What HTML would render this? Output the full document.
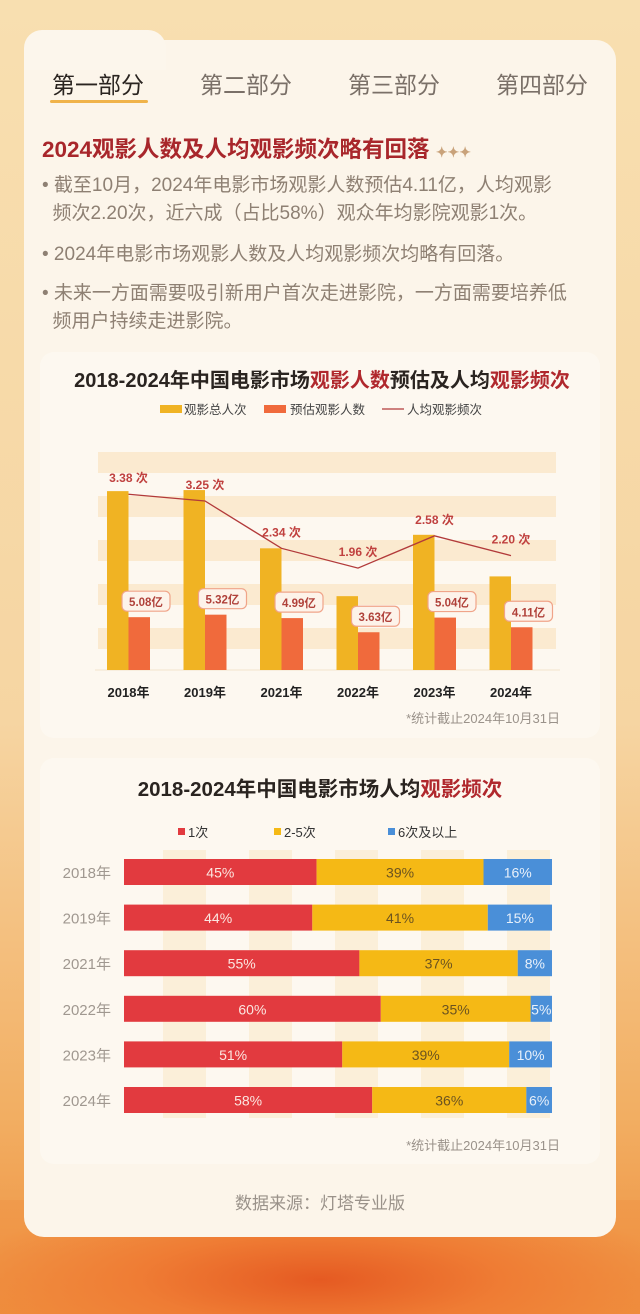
<!DOCTYPE html>
<html><head><meta charset="utf-8">
<style>
*{margin:0;padding:0;box-sizing:border-box}
body{width:640px;height:1314px;overflow:hidden;font-family:"Liberation Sans","Noto Sans CJK SC",sans-serif;
background:linear-gradient(180deg,#f8dfb0 0%,#f6d5a2 55%,#f2ae62 85%,#ee8f3e 100%);position:relative}
.abs{position:absolute}
#swirl{left:0;top:1200px;width:640px;height:114px;background:radial-gradient(ellipse at 50% 70%,#e55a22 0%,#ef7c34 40%,rgba(240,140,60,0.3) 80%)}
#card{left:24px;top:40px;width:592px;height:1197px;background:#fcf5ea;border-radius:20px}
#tabact{left:24px;top:30px;width:142px;height:40px;background:#fcf6ec;border-radius:18px 18px 0 0}
.tab{top:66px;font-size:23px;color:#7a7068}
.bul{left:42px;font-size:19px;color:#8e8073;line-height:28px;width:570px;white-space:nowrap}
.panel{background:#fdf8f0;border-radius:14px}
</style></head><body>
<div class="abs" id="swirl"></div>
<div class="abs" id="card"></div>
<div class="abs" id="tabact"></div>
<div class="abs tab" style="left:52px;color:#2a2420">第一部分</div>
<div class="abs" style="left:50px;top:100px;width:98px;height:3px;background:#f0b34a;border-radius:2px"></div>
<div class="abs tab" style="left:200px">第二部分</div>
<div class="abs tab" style="left:348px">第三部分</div>
<div class="abs tab" style="left:496px">第四部分</div>
<div class="abs" style="left:42px;top:132px;font-size:22.5px;font-weight:bold;color:#a8262b;white-space:nowrap">2024观影人数及人均观影频次略有回落 <span style="color:#c9a27a;font-size:14px">✦✦✦</span></div>
<div class="abs bul" style="top:172px">• 截至10月，2024年电影市场观影人数预估4.11亿，人均观影<br>&nbsp;&nbsp;频次2.20次，近六成（占比58%）观众年均影院观影1次。</div>
<div class="abs bul" style="top:241px">• 2024年电影市场观影人数及人均观影频次均略有回落。</div>
<div class="abs bul" style="top:280px">• 未来一方面需要吸引新用户首次走进影院，一方面需要培养低<br>&nbsp;&nbsp;频用户持续走进影院。</div>

<div class="abs panel" style="left:40px;top:352px;width:560px;height:386px"></div>
<div class="abs panel" style="left:40px;top:758px;width:560px;height:406px"></div>

<svg class="abs" style="left:0;top:0" width="640" height="1314" id="svg"></svg>

<div class="abs" style="left:0;width:640px;top:1189px;text-align:center;font-size:17px;color:#9a928a">数据来源：灯塔专业版</div>

<script>
const years1=["2018年","2019年","2021年","2022年","2023年","2024年"];
const totalAdmissions=[17.2,17.3,11.7,7.1,13.0,9.0];
const viewers=[5.08,5.32,4.99,3.63,5.04,4.11];
const viewerLabels=["5.08亿","5.32亿","4.99亿","3.63亿","5.04亿","4.11亿"];
const freq=[3.38,3.25,2.34,1.96,2.58,2.20];
const freqLabels=["3.38 次","3.25 次","2.34 次","1.96 次","2.58 次","2.20 次"];

const years2=["2018年","2019年","2021年","2022年","2023年","2024年"];
const once=[45,44,55,60,51,58];
const twoFive=[39,41,37,35,39,36];
const sixPlus=[16,15,8,5,10,6];

const NS="http://www.w3.org/2000/svg";
const svg=document.getElementById('svg');
function mk(tag,a,txt){const e=document.createElementNS(NS,tag);for(const k in a)e.setAttribute(k,a[k]);if(txt!==undefined)e.textContent=txt;svg.appendChild(e);return e;}
const F='"Liberation Sans","Noto Sans CJK SC",sans-serif';

// chart 1
let t=mk('text',{x:322,y:387,'text-anchor':'middle','font-size':20,'font-weight':'bold',fill:'#2a2420','font-family':F});
t.innerHTML='2018-2024年中国电影市场<tspan fill="#b0282d">观影人数</tspan>预估及人均<tspan fill="#b0282d">观影频次</tspan>';


let e;
e=mk('rect',{x:160,y:405,width:22,height:8,fill:'#f0b323'});


e=mk('text',{x:184,y:414,'font-size':12.5,fill:'#444','font-family':F},'观影总人次');


e=mk('rect',{x:264,y:405,width:22,height:8,fill:'#f06a3c'});


e=mk('text',{x:290,y:414,'font-size':12.5,fill:'#444','font-family':F},'预估观影人数');


e=mk('line',{x1:382,y1:409,x2:404,y2:409,stroke:'#b23a3a','stroke-width':1.2});


e=mk('text',{x:407,y:414,'font-size':12.5,fill:'#444','font-family':F},'人均观影频次');



const base=670, scale=10.4, fscale=52;
const yBar=v=>base-v*scale, yLine=v=>base-v*fscale;
const xCat=i=>107+i*76.5;
for(let k=0;k<5;k++){
  e=mk('rect',{x:98,y:452+k*44,width:458,height:21,fill:'#fbead0'});
  
  
}
e=mk('line',{x1:95,y1:base,x2:560,y2:base,stroke:'#f3e3cc','stroke-width':1});


years1.forEach((y,i)=>{
  const x=xCat(i);
  e=mk('rect',{x:x,y:yBar(totalAdmissions[i]),width:21.5,height:totalAdmissions[i]*scale,fill:'#f0b323'});
  
  
  e=mk('rect',{x:x+21.5,y:yBar(viewers[i]),width:21.5,height:viewers[i]*scale,fill:'#f06a3c'});
  
  
  e=mk('rect',{x:x+15,y:yBar(viewers[i])-26,width:48,height:20,rx:5,fill:'#fdf3ea',stroke:'#f0a489','stroke-width':1.2});
  
  
  e=mk('text',{x:x+39,y:yBar(viewers[i])-11,'text-anchor':'middle','font-size':11.5,'font-weight':'bold',fill:'#b0413a','font-family':F},viewerLabels[i]);
  
  
  e=mk('text',{x:x+21.5,y:697,'text-anchor':'middle','font-size':13,'font-weight':'bold',fill:'#222','font-family':F},y);
  
  
  e=mk('text',{x:x+21.5,y:yLine(freq[i])-12,'text-anchor':'middle','font-size':12,'font-weight':'bold',fill:'#c0413f','font-family':F},freqLabels[i]);
  
  
});
e=mk('polyline',{points:freq.map((v,i)=>(xCat(i)+21.5)+','+yLine(v)).join(' '),fill:'none',stroke:'#b23a3a','stroke-width':1.3});


e=mk('text',{x:560,y:723,'text-anchor':'end','font-size':13,fill:'#9a928a','font-family':F},'*统计截止2024年10月31日');



// chart 2
t=mk('text',{x:320,y:796,'text-anchor':'middle','font-size':20.5,'font-weight':'bold',fill:'#2a2420','font-family':F});
t.innerHTML='2018-2024年中国电影市场人均<tspan fill="#b0282d">观影频次</tspan>';


const leg=[["1次","#e23a3f",178],["2-5次","#f5b915",274],["6次及以上","#4a8fd8",388]];
leg.forEach((l,i)=>{
  e=mk('rect',{x:l[2],y:828,width:7,height:7,fill:l[1]});
  
  
  e=mk('text',{x:l[2]+10,y:837,'font-size':13,fill:'#333','font-family':F},l[0]);
  
  
});
for(let k=0;k<5;k++){
  e=mk('rect',{x:163+k*86,y:850,width:43,height:268,fill:'#fbefd9'});
  
  
}
const x0=124,W=428,xP=p=>x0+p/100*W;
const yRow=i=>859+i*45.6;
years2.forEach((y,i)=>{
  const yy=yRow(i);
  e=mk('text',{x:111,y:yy+19,'text-anchor':'end','font-size':15,fill:'#a09890','font-family':F},y);
  
  
  const segs=[[0,once[i],'#e23a3f','#fbe6e0'],[once[i],twoFive[i],'#f5b915','#6b5320'],[once[i]+twoFive[i],sixPlus[i],'#4a8fd8','#e8f0fa']];
  segs.forEach((s,j)=>{
    e=mk('rect',{x:xP(s[0]),y:yy,width:xP(s[0]+s[1])-xP(s[0]),height:26,fill:s[2]});
    
    
    e=mk('text',{x:(xP(s[0])+xP(s[0]+s[1]))/2,y:yy+18.5,'text-anchor':'middle','font-size':14,fill:s[3],'font-family':F},s[1]+'%');
    
    
  });
});
e=mk('text',{x:560,y:1150,'text-anchor':'end','font-size':13,fill:'#9a928a','font-family':F},'*统计截止2024年10月31日');


</script>
</body></html>
